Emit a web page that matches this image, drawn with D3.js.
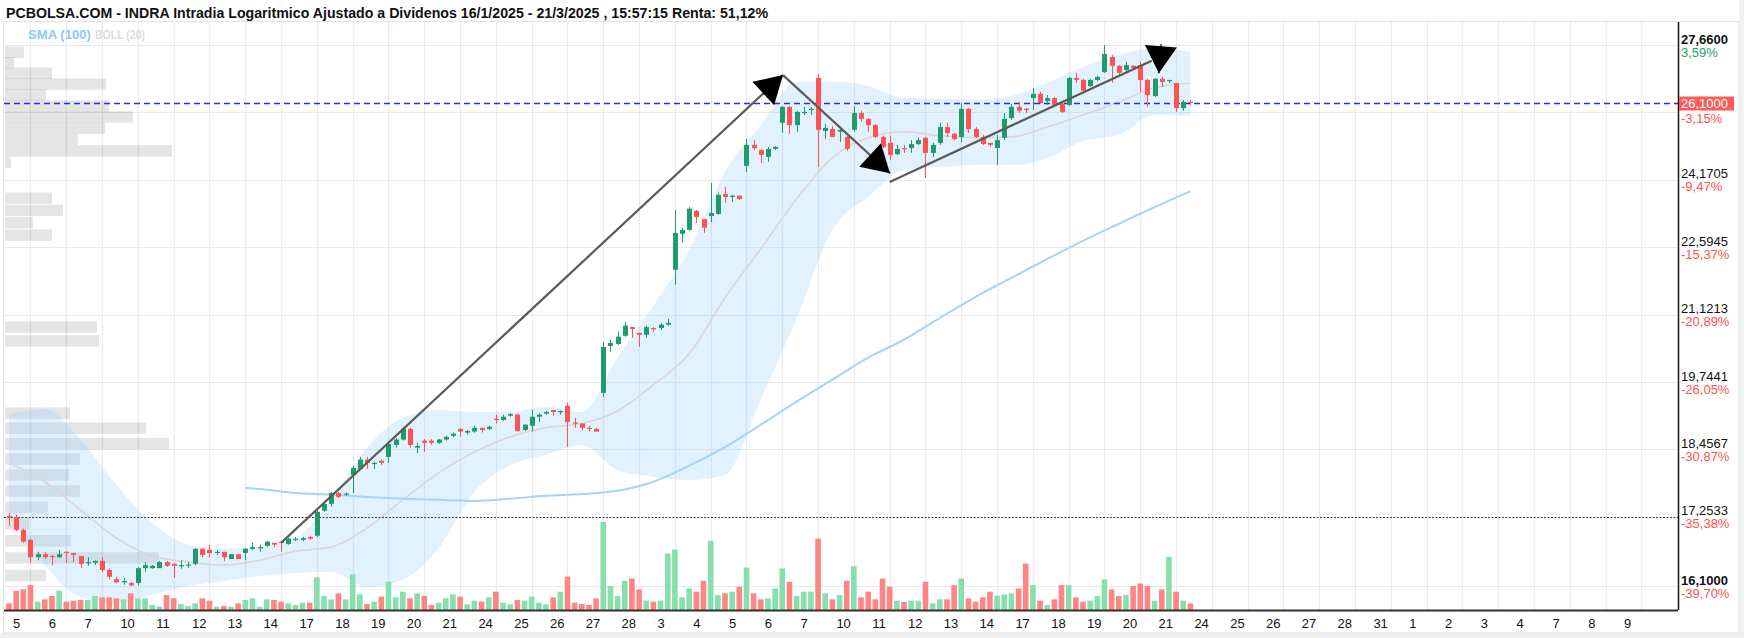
<!DOCTYPE html>
<html><head><meta charset="utf-8">
<script src="https://cdn.jsdelivr.net/npm/d3@7/dist/d3.min.js"></script>
<style>body{margin:0;background:#fff}svg{display:block}</style>
</head><body>
<svg id="chart" width="1744" height="638"></svg>
<script>
const title = "PCBOLSA.COM - INDRA Intradia Logaritmico Ajustado a Dividenos 16/1/2025 - 21/3/2025 , 15:57:15 Renta: 51,12%";
const legendItems = ["SMA (100)", "BOLL (20)"];
const dayLabels = ["5","6","7","10","11","12","13","14","17","18","19","20","21","24","25","26","27","28","3","4","5","6","7","10","11","12","13","14","17","18","19","20","21","24","25","26","27","28","31","1","2","3","4","7","8","9"];

const opens = [17.27,17.25,17.03,16.86,16.57,16.62,16.59,16.57,16.66,16.64,
16.59,16.47,16.48,16.51,16.36,16.21,16.16,16.15,16.15,16.39,
16.39,16.39,16.49,16.46,16.42,16.43,16.46,16.71,16.69,16.64,
16.66,16.54,16.62,16.64,16.71,16.72,16.76,16.81,16.83,16.79,
16.86,16.86,16.91,16.93,17.36,17.48,17.67,17.65,17.99,18.10,
18.27,18.19,18.25,18.32,18.54,18.64,18.84,18.49,18.62,18.62,
18.58,18.64,18.71,18.84,18.77,18.79,18.86,18.84,19.03,19.01,
19.09,19.11,18.82,18.90,19.07,19.13,19.20,19.16,19.28,18.96,
18.94,18.86,18.84,19.53,20.47,20.51,20.68,20.86,20.74,20.70,
20.84,20.84,20.91,22.09,22.90,22.99,23.43,23.24,23.31,23.36,
23.83,23.76,23.79,24.51,25.03,24.90,24.73,24.93,25.59,26.00,
25.53,25.84,25.92,26.76,25.38,25.43,25.36,25.23,25.41,25.84,
25.69,25.53,25.23,25.08,24.80,24.95,24.95,25.05,25.21,24.83,
25.08,25.48,25.31,25.23,25.95,25.43,25.23,25.08,24.95,25.21,
25.71,26.00,25.95,26.23,26.34,26.15,26.23,26.08,26.05,26.76,
26.71,26.55,26.71,26.92,27.33,27.09,26.98,27.09,27.11,26.71,
26.28,26.74,26.70,26.63,25.97,26.13];
const highs = [17.32,17.29,17.05,16.88,16.66,16.66,16.61,16.69,16.67,16.64,
16.59,16.57,16.52,16.57,16.38,16.25,16.23,16.16,16.41,16.49,
16.44,16.51,16.51,16.48,16.52,16.49,16.72,16.72,16.78,16.69,
16.66,16.62,16.62,16.72,16.81,16.78,16.84,16.81,16.84,16.89,
16.91,16.91,16.93,17.37,17.50,17.69,17.69,17.68,18.16,18.32,
18.32,18.23,18.27,18.60,18.67,18.88,18.86,18.58,18.65,18.65,
18.65,18.71,18.77,18.86,18.82,18.90,18.86,18.90,19.11,19.11,
19.14,19.13,18.92,19.20,19.14,19.18,19.20,19.19,19.34,19.05,
18.95,18.90,18.86,20.55,20.60,20.76,20.97,20.86,20.74,20.89,
20.86,20.95,21.03,23.45,23.04,23.52,23.45,23.24,24.10,23.86,
24.00,23.81,23.79,25.18,25.15,24.93,24.98,25.00,26.02,26.02,
25.90,26.00,26.00,26.87,25.56,25.51,25.46,25.26,26.02,25.90,
25.71,25.56,25.26,25.26,25.03,25.03,25.15,25.21,25.23,25.08,
25.59,25.59,25.33,26.10,25.97,25.48,25.28,25.08,25.28,25.84,
26.08,26.13,25.97,26.50,26.39,26.31,26.26,26.10,26.79,26.90,
26.74,26.74,26.82,27.66,27.39,27.11,27.20,27.11,27.20,26.74,
26.76,26.79,26.71,26.63,26.18,26.18];
const lows = [17.10,17.01,16.81,16.48,16.52,16.54,16.44,16.56,16.48,16.49,
16.39,16.43,16.44,16.33,16.21,16.15,16.12,16.10,16.11,16.33,
16.38,16.39,16.41,16.23,16.38,16.39,16.44,16.57,16.57,16.61,
16.51,16.54,16.54,16.52,16.69,16.66,16.74,16.74,16.66,16.78,
16.84,16.84,16.86,16.91,17.34,17.43,17.58,17.62,17.67,18.08,
18.10,18.10,18.17,18.21,18.49,18.62,18.49,18.39,18.41,18.54,
18.56,18.62,18.69,18.69,18.73,18.77,18.77,18.82,18.94,18.99,
19.07,18.79,18.80,18.79,18.97,19.11,19.09,19.11,18.51,18.86,
18.82,18.79,18.79,19.45,20.35,20.49,20.66,20.64,20.45,20.64,
20.76,20.80,20.89,21.76,22.69,22.97,23.15,22.92,23.17,23.34,
23.62,23.64,23.69,24.36,24.90,24.58,24.61,24.90,25.33,25.31,
25.36,25.79,25.79,24.48,25.18,25.23,25.10,24.88,25.36,25.61,
25.36,25.20,24.95,24.66,24.78,24.83,24.83,25.03,24.22,24.73,
25.03,25.23,25.15,25.10,25.33,25.20,25.03,24.98,24.53,25.15,
25.66,25.84,25.84,25.92,26.08,26.05,26.02,25.84,26.02,26.63,
26.37,26.52,26.68,26.90,26.63,26.82,26.92,26.98,26.39,26.00,
26.26,26.52,26.63,25.87,25.90,26.05];
const closes = [17.24,17.03,16.83,16.57,16.62,16.57,16.57,16.62,16.64,16.61,
16.46,16.49,16.51,16.36,16.25,16.16,16.18,16.11,16.39,16.44,
16.43,16.49,16.43,16.43,16.44,16.45,16.71,16.61,16.64,16.66,
16.57,16.62,16.54,16.71,16.74,16.74,16.83,16.78,16.81,16.88,
16.88,16.89,16.88,17.34,17.48,17.67,17.60,17.66,18.12,18.27,
18.21,18.21,18.21,18.56,18.64,18.84,18.54,18.52,18.58,18.58,
18.64,18.69,18.75,18.79,18.80,18.86,18.82,18.88,19.01,19.07,
19.12,18.80,18.92,19.07,19.11,19.16,19.16,19.18,18.97,18.94,
18.86,18.84,18.79,20.45,20.53,20.66,20.89,20.82,20.70,20.86,
20.82,20.91,20.95,22.92,22.99,23.48,23.29,23.04,23.38,23.81,
23.76,23.79,23.71,25.03,24.95,24.78,24.93,24.98,26.00,25.53,
25.87,25.87,25.95,25.41,25.46,25.23,25.41,24.93,25.84,25.69,
25.53,25.23,24.98,24.78,24.93,24.93,25.05,25.15,24.83,25.03,
25.48,25.33,25.18,25.95,25.43,25.23,25.05,25.03,25.15,25.69,
26.00,25.90,25.92,26.34,26.10,26.23,26.05,25.87,26.76,26.71,
26.42,26.71,26.79,27.41,27.09,26.90,27.11,27.03,26.71,26.31,
26.74,26.66,26.71,25.97,26.13,26.10];
const volumes = [76,220,235,284,95,121,159,220,95,106,
114,114,159,144,144,133,121,189,133,133,
57,38,170,133,68,45,76,133,106,38,
45,38,76,114,133,38,121,114,95,76,
57,83,83,371,159,121,189,121,405,178,
68,95,152,322,144,208,133,189,159,57,
83,133,178,152,64,106,95,144,208,83,
64,114,106,152,83,64,144,208,379,83,
68,57,132,1000,272,158,332,358,234,106,
94,106,642,687,143,245,208,332,785,170,
189,208,264,483,189,121,132,245,472,321,
158,208,208,811,189,121,170,332,498,143,
208,121,358,264,106,91,106,106,321,75,
121,121,283,358,132,94,143,208,162,177,
189,245,528,283,106,57,121,283,283,143,
94,106,158,347,234,158,170,272,302,272,
106,234,604,208,106,75];

// Bollinger (20) read every 5 candles
const bollStep = 5;
const bollUpper = [19.13,19.22,18.64,17.81,17.15,16.78,16.71,16.74,16.89,17.55,18.49,19.05,19.20,19.16,19.16,19.26,19.16,20.23,21.31,22.53,24.36,25.53,26.66,26.66,26.55,26.23,26.21,26.18,26.29,26.63,27.06,27.39,27.58,27.47];
const bollMiddle = [18.21,17.87,17.37,16.89,16.59,16.49,16.44,16.52,16.67,16.74,17.06,17.55,18.03,18.41,18.69,18.86,18.94,19.18,19.69,20.31,21.48,22.56,23.71,24.71,25.21,25.36,25.26,25.21,25.23,25.48,25.79,26.13,26.50,26.63];
const bollLower = [17.29,16.44,15.92,15.84,15.96,16.10,16.18,16.26,16.31,16.33,16.08,16.20,16.72,17.69,18.17,18.36,18.54,18.08,17.96,17.90,17.99,19.40,21.05,22.99,23.76,24.41,24.48,24.53,24.53,24.70,25.13,25.28,25.79,25.77];
// SMA (100)
const smaIndex = [33,35,40,45,50,55,60,65,70,75,80,85,90,95,100,105,110,115,120,125,130,135,140,145,150,155,160,165];
const sma100 = [17.76,17.74,17.67,17.64,17.60,17.57,17.55,17.53,17.57,17.62,17.65,17.71,17.87,18.16,18.50,18.92,19.36,19.79,20.23,20.60,21.05,21.50,21.91,22.33,22.74,23.13,23.52,23.90];

// volume profile (40 price bins between min and max)
const profileVolume = [41,154,66,24,43,75,64,75,164,141,65,0,0,0,0,94,92,0,0,0,0,0,0,47,28,58,47,0,0,6,167,73,100,128,104,41,101,47,9,19];

// price axis
const minPrice = 16.1, maxPrice = 27.66, currentPrice = 26.1, refLevel = 17.2533;
const gridValues = [16.1,17.2533,18.4567,19.7441,21.1213,22.5945,24.1705,25.8555,27.66];
const axisValues = [27.66,26.1,24.1705,22.5945,21.1213,19.7441,18.4567,17.2533,16.1];
const axisTexts = ["27,6600","26,1000","24,1705","22,5945","21,1213","19,7441","18,4567","17,2533","16,1000"];
const axisPct = ["3,59%","-3,15%","-9,47%","-15,37%","-20,89%","-26,05%","-30,87%","-35,38%","-39,70%"];

// drawn trend arrows (candle index, price)
const arrows = [
  {i0:38.0, p0:16.81, i1:108.1, p1:26.84, head:true},
  {i0:108.1, p0:26.84, i1:123.04, p1:24.33, head:true},
  {i0:123.0, p0:24.12, i1:159.6, p1:27.23, head:false},
  {i0:160.9, p0:27.68, i1:160.6, p1:26.89, head:true}
];

// ---------------- drawing ----------------
const W = 1744, H = 638;
const plotL = 4, plotR = 1678, plotT = 22, plotB = 610;
const svg = d3.select("#chart");
const x = d3.scaleLinear().domain([0, 230]).range([9, 9 + 7.16 * 230]);
const y = d3.scaleLog().domain([minPrice, maxPrice]).range([586, 45]);
const yVol = d3.scaleLinear().domain([0, d3.max(volumes)]).range([plotB, 522]);
const xProf = d3.scaleLinear().domain([0, 167]).range([0, 167]);
const GREEN = "#1f9b6c", RED = "#ff5252";
const sansNarrow = "'Liberation Sans Narrow','Arial Narrow','Liberation Sans',Arial,sans-serif";
const sans = "'Liberation Sans',Arial,sans-serif";

svg.append("rect").attr("width", W).attr("height", H).attr("fill", "#fff");
svg.append("rect").attr("x", 0).attr("y", 633).attr("width", W).attr("height", 5).attr("fill", "#f1f1f1");
svg.append("rect").attr("x", 1739).attr("y", 0).attr("width", 5).attr("height", H).attr("fill", "#f1f1f1");
svg.append("rect").attr("x", 3.5).attr("y", 21.5).attr("width", 1735.5).attr("height", 611.5)
  .attr("fill", "none").attr("stroke", "#e4e4e4");

// grid
const grid = svg.append("g");
grid.selectAll("line.h").data(gridValues).join("line")
  .attr("x1", plotL).attr("x2", plotR)
  .attr("y1", d => Math.round(y(d)) + 0.5).attr("y2", d => Math.round(y(d)) + 0.5)
  .attr("stroke", "#e8e8e8").attr("stroke-width", 1.2);
grid.selectAll("line.v").data(dayLabels).join("line")
  .attr("x1", (d, k) => Math.round(x(5 * k + 3)) + 0.5).attr("x2", (d, k) => Math.round(x(5 * k + 3)) + 0.5)
  .attr("y1", plotT).attr("y2", plotB)
  .attr("stroke", "#ebebeb").attr("stroke-width", 1.2);

// volume profile
const binW = (maxPrice - minPrice) / profileVolume.length;
svg.append("g").selectAll("rect").data(profileVolume.map((v, k) => ({v, k})).filter(d => d.v > 0)).join("rect")
  .attr("x", 5).attr("y", d => y(minPrice + (d.k + 1) * binW) + 1.5)
  .attr("width", d => xProf(d.v)).attr("height", 11.5)
  .attr("fill", "rgba(0,0,0,0.1)");

// Bollinger band
const boll = bollUpper.map((u, k) => ({i: k * bollStep, u, m: bollMiddle[k], l: bollLower[k]}));
svg.append("path").datum(boll)
  .attr("d", d3.area().x(d => x(d.i)).y0(d => y(d.l)).y1(d => y(d.u)).curve(d3.curveMonotoneX))
  .attr("fill", "rgba(144,202,249,0.27)");
svg.append("path").datum(boll)
  .attr("d", d3.line().x(d => x(d.i)).y(d => y(d.m)).curve(d3.curveMonotoneX))
  .attr("fill", "none").attr("stroke", "#ddd5d5").attr("stroke-width", 1.6);
// SMA 100
svg.append("path").datum(smaIndex.map((i, k) => ({i, v: sma100[k]})))
  .attr("d", d3.line().x(d => x(d.i)).y(d => y(d.v)).curve(d3.curveMonotoneX))
  .attr("fill", "none").attr("stroke", "#a6d3f6").attr("stroke-width", 2);

// volume bars
svg.append("g").selectAll("rect").data(volumes).join("rect")
  .attr("x", (d, i) => x(i) - 2.8).attr("width", 5.6)
  .attr("y", d => yVol(d)).attr("height", d => plotB - yVol(d))
  .attr("fill", (d, i) => closes[i] >= opens[i] ? "#86dfad" : "#ff8585");

// reference lines
svg.append("line").attr("x1", plotL).attr("x2", plotR)
  .attr("y1", Math.round(y(refLevel)) + 0.5).attr("y2", Math.round(y(refLevel)) + 0.5)
  .attr("stroke", "#444").attr("stroke-width", 1.2).attr("stroke-dasharray", "2,1.5");
svg.append("line").attr("x1", plotL).attr("x2", plotR)
  .attr("y1", Math.round(y(currentPrice)) + 0.5).attr("y2", Math.round(y(currentPrice)) + 0.5)
  .attr("stroke", "#2b2bf0").attr("stroke-width", 1.3).attr("stroke-dasharray", "6,4");

// candles
const cg = svg.append("g");
opens.forEach((o, i) => {
  const c = closes[i], col = c >= o ? GREEN : RED;
  const cx = Math.round(x(i)) + 0.5;
  cg.append("line").attr("x1", cx).attr("x2", cx).attr("y1", y(highs[i])).attr("y2", y(lows[i]))
    .attr("stroke", col).attr("stroke-width", 1);
  const top = y(Math.max(o, c)), bot = y(Math.min(o, c));
  cg.append("rect").attr("x", cx - 2.5).attr("width", 5)
    .attr("y", top).attr("height", Math.max(1.2, bot - top)).attr("fill", col);
});

// arrows
const ag = svg.append("g");
arrows.forEach(a => {
  const x0 = x(a.i0), y0 = y(a.p0), x1 = x(a.i1), y1 = y(a.p1);
  ag.append("line").attr("x1", x0).attr("y1", y0).attr("x2", x1).attr("y2", y1)
    .attr("stroke", "#5a5a5a").attr("stroke-width", 2.2);
  if (a.head) {
    const len = Math.hypot(x1 - x0, y1 - y0), ux = (x1 - x0) / len, uy = (y1 - y0) / len;
    const hl = 27, hw = 16, bx = x1 - ux * hl, by = y1 - uy * hl;
    ag.append("path").attr("d", `M${x1},${y1}L${bx - uy * hw},${by + ux * hw}L${bx + uy * hw},${by - ux * hw}Z`)
      .attr("fill", "#000");
  }
});

// axis lines
svg.append("line").attr("x1", plotL).attr("x2", plotR).attr("y1", plotB + 0.5).attr("y2", plotB + 0.5)
  .attr("stroke", "#333").attr("stroke-width", 2);
svg.append("line").attr("x1", plotR + 0.5).attr("x2", plotR + 0.5).attr("y1", plotT).attr("y2", plotB)
  .attr("stroke", "#111").attr("stroke-width", 1.5);

// right axis labels
const rg = svg.append("g").attr("font-family", sans).attr("font-size", 13);
axisValues.forEach((v, k) => {
  const yy = y(v);
  const isCur = v === currentPrice, bold = (v === maxPrice || v === minPrice);
  const pctCol = axisPct[k].startsWith("-") ? RED : "#26a06b";
  if (isCur) {
    rg.append("rect").attr("x", plotR + 1).attr("y", yy - 6.5).attr("width", 55).attr("height", 14).attr("fill", "#ff5a5a");
    rg.append("text").attr("x", plotR + 3).attr("y", yy + 5).attr("fill", "#fff").text(axisTexts[k]);
    rg.append("text").attr("x", plotR + 3).attr("y", yy + 20).attr("fill", pctCol).text(axisPct[k]);
  } else {
    rg.append("text").attr("x", plotR + 3).attr("y", yy - 1.5).attr("fill", "#111")
      .attr("font-weight", bold ? "bold" : "normal").text(axisTexts[k]);
    rg.append("text").attr("x", plotR + 3).attr("y", yy + 11.5).attr("fill", pctCol).text(axisPct[k]);
  }
});

// day labels
svg.append("g").attr("font-family", sansNarrow).attr("font-size", 13).attr("fill", "#111")
  .selectAll("text").data(dayLabels).join("text")
  .attr("x", (d, k) => x(5 * k) + 4).attr("y", 628).text(d => d);

// title & legend
svg.append("text").attr("x", 6).attr("y", 18).attr("font-family", sansNarrow).attr("font-weight", "bold")
  .attr("font-size", 14).attr("fill", "#111").attr("textLength", 762).attr("lengthAdjust", "spacingAndGlyphs").text(title);
svg.append("text").attr("x", 28).attr("y", 39).attr("font-family", sansNarrow).attr("font-weight", "bold")
  .attr("font-size", 13).attr("fill", "#90c8f5").attr("textLength", 63).attr("lengthAdjust", "spacingAndGlyphs").text(legendItems[0]);
svg.append("text").attr("x", 95).attr("y", 39).attr("font-family", sansNarrow).attr("font-weight", "bold")
  .attr("font-size", 13).attr("fill", "#dcdcdc").attr("textLength", 50).attr("lengthAdjust", "spacingAndGlyphs").text(legendItems[1]);
</script>
</body></html>
